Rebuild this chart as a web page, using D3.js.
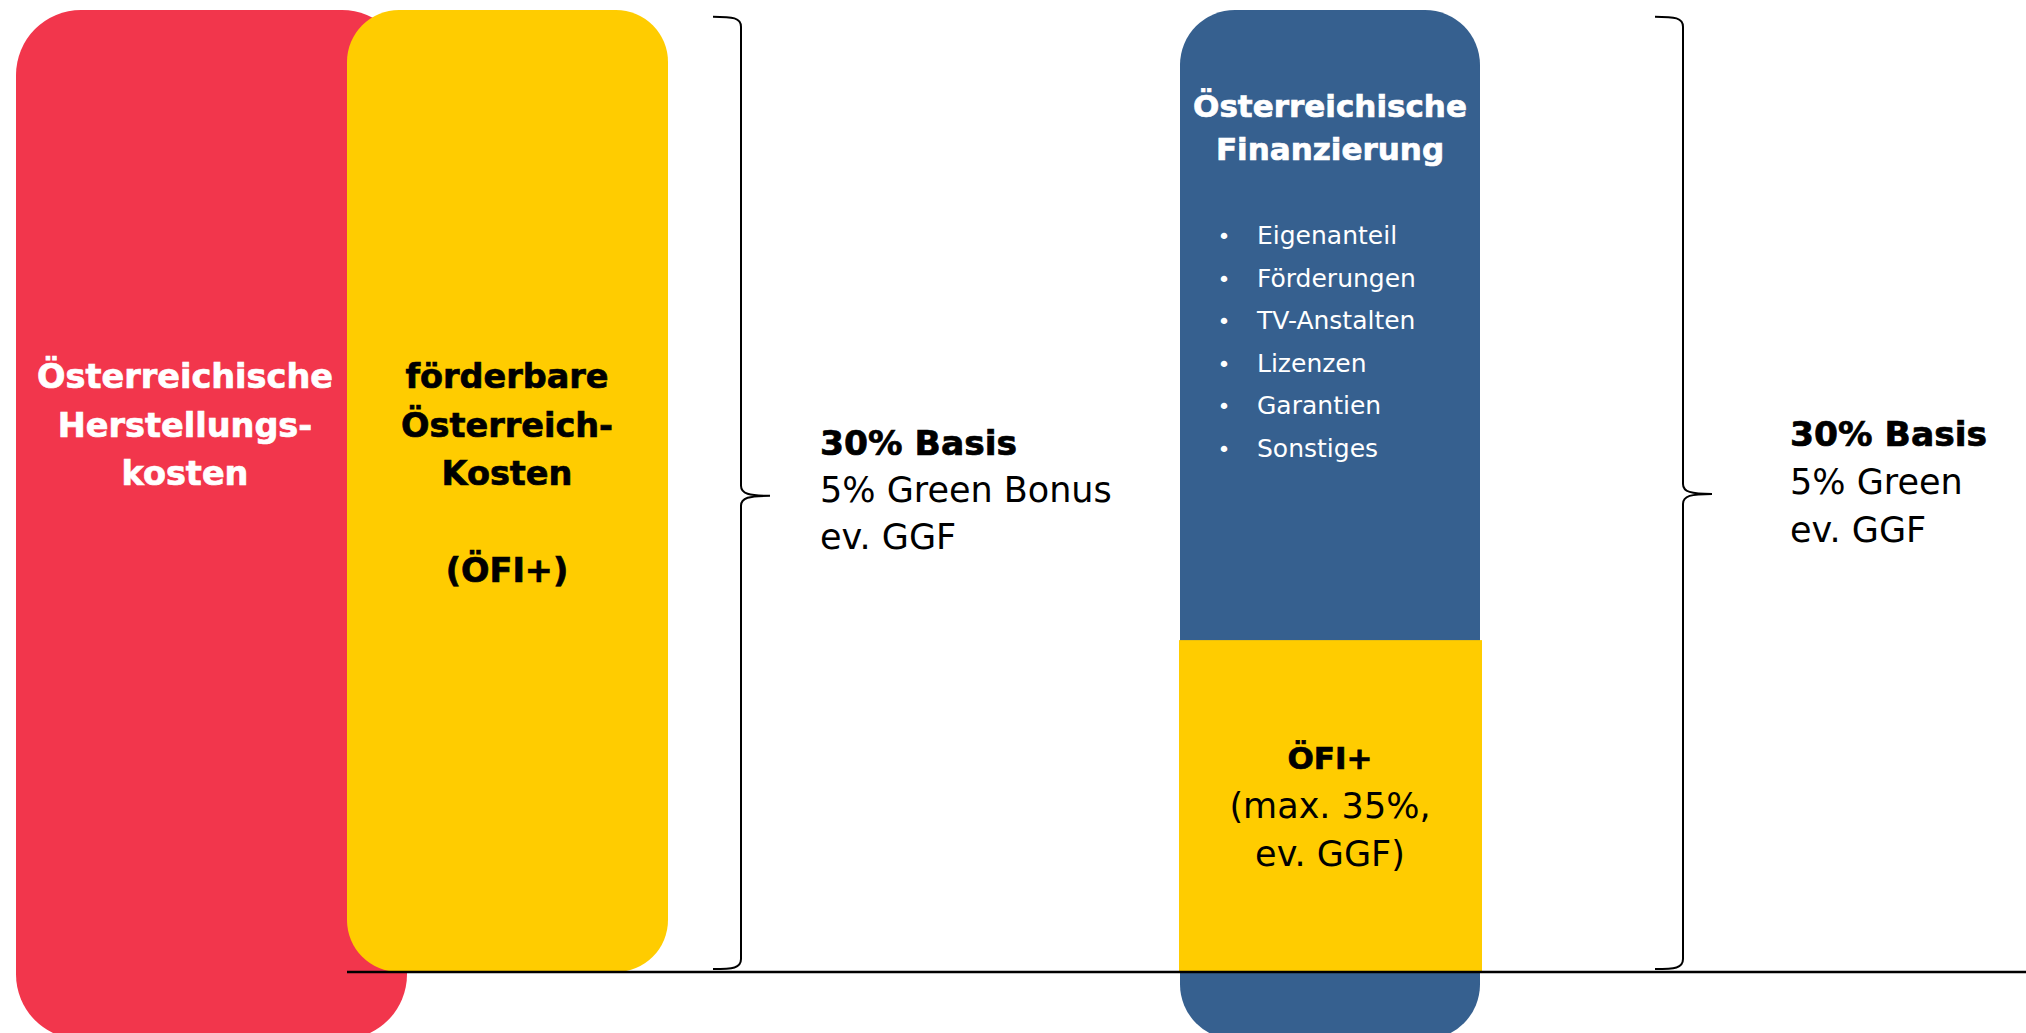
<!DOCTYPE html>
<html>
<head>
<meta charset="utf-8">
<script src="https://cdn.jsdelivr.net/npm/d3@7"></script>
<style>
  html, body { margin: 0; padding: 0; background: #fff; overflow: hidden; }
  svg { display: block; }
  text { font-family: "DejaVu Sans", sans-serif; }
</style>
</head>
<body>
<svg id="chart"></svg>
<script>
// columns of the diagram, values in % of the eligible Austrian costs
const columnNames = ["Österreichische Herstellungskosten", "förderbare Österreich-Kosten", "Österreichische Finanzierung"];
const columnTop = [100, 100, 100];
const columnBottom = [-7, 0, -7];
const ofiShare = 34.5;
const braceRange = [0.3, 99.3];
const braceTip = [49.5, 49.7];

// texts
const leftLabel = ["Österreichische", "Herstellungs-", "kosten"];
const middleLabel = ["förderbare", "Österreich-", "Kosten", "", "(ÖFI+)"];
const financeTitle = ["Österreichische", "Finanzierung"];
const financeItems = ["Eigenanteil", "Förderungen", "TV-Anstalten", "Lizenzen", "Garantien", "Sonstiges"];
const ofiLabel = ["ÖFI+", "(max. 35%,", "ev. GGF)"];
const incentiveLeft = ["30% Basis", "5% Green Bonus", "ev. GGF"];
const incentiveRight = ["30% Basis", "5% Green", "ev. GGF"];

const width = 2026;
const height = 1033;

const svg = d3.select("#chart")
  .attr("width", width)
  .attr("height", height);

// vertical scale: 0 = baseline, 100 = top of the columns
const yScale = d3.scaleLinear()
  .domain([0, 100])
  .range([972, 10]);

// horizontal extents of the three columns
const colX = [[16, 407], [347, 668], [1180, 1480]];
const colColor = ["#f2364c", "#ffcc00", "#36608f"];
const colRadius = [65, 52, 55];

svg.selectAll(".col")
  .data(columnNames)
  .enter()
  .append("rect")
  .attr("class", "col")
  .attr("x", (d, i) => colX[i][0])
  .attr("y", (d, i) => yScale(columnTop[i]))
  .attr("width", (d, i) => colX[i][1] - colX[i][0])
  .attr("height", (d, i) => yScale(columnBottom[i]) - yScale(columnTop[i]))
  .attr("rx", (d, i) => colRadius[i])
  .attr("fill", (d, i) => colColor[i]);

// ÖFI+ share inside the financing column
svg.append("rect")
  .attr("x", colX[2][0] - 1)
  .attr("y", yScale(ofiShare))
  .attr("width", colX[2][1] - colX[2][0] + 3)
  .attr("height", yScale(0) - yScale(ofiShare))
  .attr("fill", "#ffcc00");

// baseline
svg.append("line")
  .attr("x1", colX[1][0])
  .attr("x2", width)
  .attr("y1", yScale(0))
  .attr("y2", yScale(0))
  .attr("stroke", "#000")
  .attr("stroke-width", 2.5);

// curly braces
function bracePath(x, y0, y1, ym) {
  const p = d3.path();
  p.moveTo(x - 28, y0);
  p.bezierCurveTo(x - 8, y0, x, y0 + 1, x, y0 + 10);
  p.lineTo(x, ym - 10);
  p.bezierCurveTo(x, ym - 2, x + 8, ym, x + 29, ym);
  p.bezierCurveTo(x + 8, ym, x, ym + 2, x, ym + 10);
  p.lineTo(x, y1 - 10);
  p.bezierCurveTo(x, y1 - 1, x - 8, y1, x - 28, y1);
  return p.toString();
}
const braceX = [741, 1683];
svg.selectAll(".brace")
  .data(braceX)
  .enter()
  .append("path")
  .attr("class", "brace")
  .attr("d", (d, i) => bracePath(d, yScale(braceRange[1]), yScale(braceRange[0]), yScale(braceTip[i])))
  .attr("fill", "none")
  .attr("stroke", "#000")
  .attr("stroke-width", 2);

// helper for stacked lines of text
function addLines(lines, x, y0, step, opts) {
  const g = svg.append("g");
  g.selectAll("text")
    .data(lines)
    .enter()
    .append("text")
    .attr("x", x)
    .attr("y", (d, i) => y0 + i * step)
    .attr("text-anchor", opts.anchor || "middle")
    .attr("font-size", (d, i) => (opts.boldFirst !== undefined && i >= opts.boldFirst ? opts.small : opts.size))
    .attr("font-weight", (d, i) => (opts.boldFirst !== undefined ? (i < opts.boldFirst ? 700 : 400) : opts.weight))
    .attr("fill", opts.color)
    .attr("stroke", (d, i) => (opts.boldFirst === undefined || i < opts.boldFirst ? opts.color : "none"))
    .attr("stroke-width", 0.7)
    .text(d => d);
  return g;
}

addLines(leftLabel, 185, 388, 48.5, { size: 33.5, weight: 700, color: "#fff" });
addLines(middleLabel, 507, 388, 48.5, { size: 33.5, weight: 700, color: "#000" });
addLines(financeTitle, 1330, 117, 43, { size: 31, weight: 700, color: "#fff" });

// bullet list
const itemY = d3.scalePoint()
  .domain(financeItems)
  .range([244, 457]);
const items = svg.append("g");
items.selectAll(".dot")
  .data(financeItems)
  .enter()
  .append("text")
  .attr("x", 1224)
  .attr("y", d => itemY(d))
  .attr("text-anchor", "middle")
  .attr("font-size", 22)
  .attr("fill", "#fff")
  .text("•");
items.selectAll(".item")
  .data(financeItems)
  .enter()
  .append("text")
  .attr("x", 1257)
  .attr("y", d => itemY(d))
  .attr("font-size", 25)
  .attr("fill", "#fff")
  .text(d => d);

addLines(ofiLabel, 1330, 769, 48.5, { size: 31, small: 35, boldFirst: 1, color: "#000" });
addLines(incentiveLeft, 820, 455, 47, { size: 34.5, small: 35, boldFirst: 1, color: "#000", anchor: "start" });
addLines(incentiveRight, 1790, 446, 48, { size: 34.5, small: 35, boldFirst: 1, color: "#000", anchor: "start" });
</script>
</body>
</html>
